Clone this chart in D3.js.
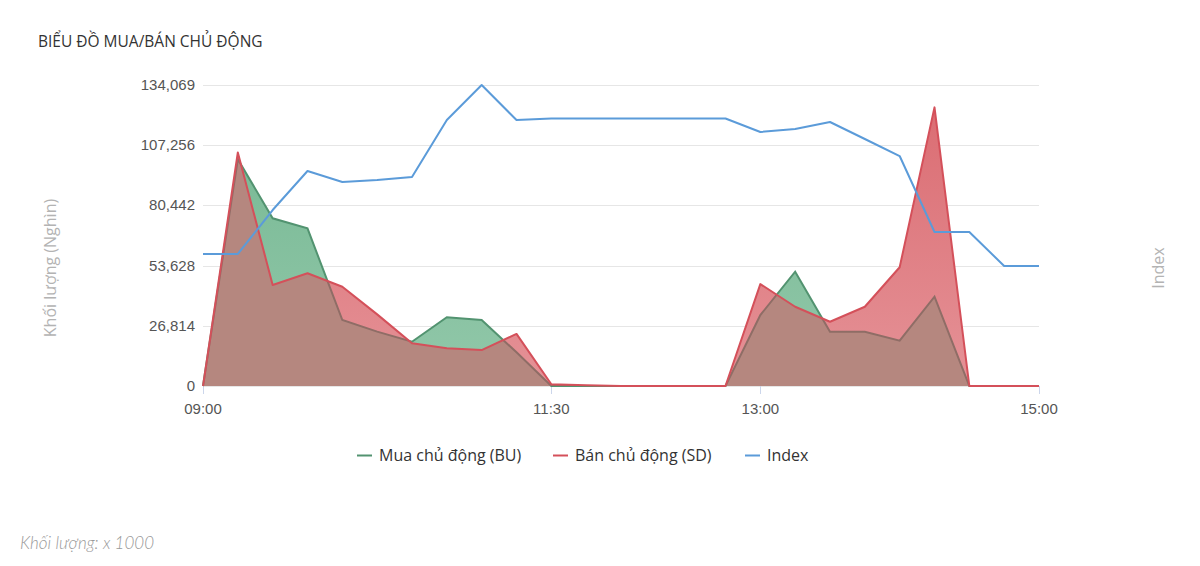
<!DOCTYPE html>
<html>
<head><meta charset="utf-8">
<title>Biểu đồ mua/bán chủ động</title>
<script src="https://d3js.org/d3.v7.min.js"></script>
<style>
body { margin:0; background:#fff; }
svg { display:block; }
</style>
</head>
<body>
<svg width="1200" height="566"></svg>
<script>
// time slots every 15 min, 09:00 -> 15:00
var times = ["09:00","09:15","09:30","09:45","10:00","10:15","10:30","10:45","11:00","11:15","11:30","11:45",
  "12:00","12:15","12:30","12:45","13:00","13:15","13:30","13:45","14:00","14:15","14:30","14:45","15:00"];
var buValues = [0,101000,74700,70200,29400,24200,19700,30600,29400,15000,0,0,
  0,0,0,0,31600,50900,24200,24200,20200,39800,0,0,0];
var sdValues = [0,104000,45000,50200,44200,31900,19000,16800,16000,23200,800,300,
  0,0,0,0,45400,35300,28600,35300,52900,124100,0,0,0];
var indexValues = [1243.16,1243.16,1247.54,1251.43,1250.33,1250.53,1250.83,1256.51,1260.00,1256.51,1256.66,1256.66,
  1256.66,1256.66,1256.66,1256.66,1255.32,1255.61,1256.31,1254.62,1252.92,1245.35,1245.35,1241.96,1241.96];
var volumeTicks = [0,26814,53628,80442,107256,134069];
var xTickLabels = ["09:00","11:30","13:00","15:00"];
var indexDomain = [1230,1260];

var svg = d3.select("svg");
var pLeft = 203, pRight = 1039, pTop = 85, pBottom = 386;
var parse = d3.timeParse("%H:%M");
var x = d3.scaleTime().domain([parse("09:00"), parse("15:00")]).range([pLeft, pRight]);
var y = d3.scaleLinear().domain([0, 134069]).range([pBottom, pTop]);
var yi = d3.scaleLinear().domain(indexDomain).range([pBottom, pTop]);

var rows = times.map(function(t, i) {
  return {t: parse(t), bu: buValues[i], sd: sdValues[i], idx: indexValues[i]};
});

var defs = svg.append("defs");
function grad(id, c1, c2) {
  var g = defs.append("linearGradient").attr("id", id)
    .attr("gradientUnits", "userSpaceOnUse").attr("x1", 0).attr("y1", pTop).attr("x2", 0).attr("y2", pBottom);
  g.append("stop").attr("offset", "0%").attr("stop-color", c1);
  g.append("stop").attr("offset", "100%").attr("stop-color", c2);
}
grad("gGreen", "#73b690", "#92c8aa");
grad("gRed", "#da6a70", "#e59297");

// title
svg.append("text").attr("x", 38).attr("y", 47)
  .style("font-family", "'Open Sans', sans-serif").style("font-size", "15.5px").attr("fill", "#333")
  .text("BIỂU ĐỒ MUA/BÁN CHỦ ĐỘNG");

// grid + y labels
svg.append("g").selectAll("line").data(volumeTicks).enter().append("line")
  .attr("x1", pLeft).attr("x2", pRight)
  .attr("y1", function(d) { return Math.round(y(d)) + 0.5; })
  .attr("y2", function(d) { return Math.round(y(d)) + 0.5; })
  .attr("stroke", "#e6e6e6");
svg.append("g").selectAll("text").data(volumeTicks).enter().append("text")
  .attr("x", 195).attr("y", function(d) { return y(d) + 5; })
  .attr("text-anchor", "end")
  .style("font-family", "'Liberation Sans', Arial, sans-serif").style("font-size", "15px").attr("fill", "#555")
  .text(function(d) { return d3.format(",")(d); });

// x ticks
svg.append("g").selectAll("line").data(xTickLabels).enter().append("line")
  .attr("x1", function(d) { return Math.round(x(parse(d))) + 0.5; })
  .attr("x2", function(d) { return Math.round(x(parse(d))) + 0.5; })
  .attr("y1", pBottom).attr("y2", pBottom + 8).attr("stroke", "#ccd6eb");
svg.append("g").selectAll("text").data(xTickLabels).enter().append("text")
  .attr("x", function(d) { return x(parse(d)); }).attr("y", 414)
  .attr("text-anchor", "middle")
  .style("font-family", "'Liberation Sans', Arial, sans-serif").style("font-size", "15px").attr("fill", "#555")
  .text(function(d) { return d; });

// axis titles
svg.append("text").attr("transform", "translate(56,268) rotate(-90)").attr("text-anchor", "middle")
  .style("font-family", "'Open Sans', sans-serif").style("font-size", "16px").attr("fill", "#b3b3b3")
  .text("Khối lượng (Nghìn)");
svg.append("text").attr("transform", "translate(1164,268) rotate(-90)").attr("text-anchor", "middle")
  .style("font-family", "'Open Sans', sans-serif").style("font-size", "16px").attr("fill", "#b3b3b3")
  .text("Index");

var areaBu = d3.area().x(function(d) { return x(d.t); }).y0(pBottom).y1(function(d) { return y(d.bu); });
var areaSd = d3.area().x(function(d) { return x(d.t); }).y0(pBottom).y1(function(d) { return y(d.sd); });
var lineBu = d3.line().x(function(d) { return x(d.t); }).y(function(d) { return y(d.bu); });
var lineSd = d3.line().x(function(d) { return x(d.t); }).y(function(d) { return y(d.sd); });
var lineIdx = d3.line().x(function(d) { return x(d.t); }).y(function(d) { return yi(d.idx); });

defs.append("clipPath").attr("id", "clipBu").append("path").attr("d", areaBu(rows));
defs.append("clipPath").attr("id", "clipSd").append("path").attr("d", areaSd(rows));

svg.append("path").attr("d", areaBu(rows)).attr("fill", "url(#gGreen)");
svg.append("path").attr("d", lineBu(rows)).attr("fill", "none").attr("stroke", "#529370").attr("stroke-width", 2);
svg.append("path").attr("d", areaSd(rows)).attr("fill", "url(#gRed)");
svg.append("path").attr("d", areaSd(rows)).attr("fill", "#b5877f").attr("clip-path", "url(#clipBu)");
svg.append("path").attr("d", lineBu(rows)).attr("fill", "none").attr("stroke", "#8f6d66").attr("stroke-width", 2)
  .attr("clip-path", "url(#clipSd)");
svg.append("path").attr("d", lineSd(rows)).attr("fill", "none").attr("stroke", "#d4505a").attr("stroke-width", 2)
  .attr("stroke-linejoin", "round");
svg.append("path").attr("d", lineIdx(rows)).attr("fill", "none").attr("stroke", "#5b9bd9").attr("stroke-width", 2)
  .attr("stroke-linejoin", "round");

// legend
var legend = [
  {name: "Mua chủ động (BU)", color: "#529370", x: 357},
  {name: "Bán chủ động (SD)", color: "#d4505a", x: 553},
  {name: "Index", color: "#5b9bd9", x: 745}
];
var lg = svg.append("g").selectAll("g").data(legend).enter().append("g")
  .attr("transform", function(d) { return "translate(" + d.x + ",455)"; });
lg.append("line").attr("x1", 0).attr("x2", 15).attr("y1", 0.5).attr("y2", 0.5)
  .attr("stroke", function(d) { return d.color; }).attr("stroke-width", 2);
lg.append("text").attr("x", 22).attr("y", 6)
  .style("font-family", "'Open Sans', sans-serif").style("font-size", "16px").attr("fill", "#333")
  .text(function(d) { return d.name; });

// footer
svg.append("text").attr("x", 20).attr("y", 549)
  .style("font-family", "Lato, sans-serif").style("font-size", "17px").style("font-style", "italic")
  .style("font-weight", 300).attr("fill", "#999")
  .text("Khối lượng: x 1000");
</script>
</body>
</html>
